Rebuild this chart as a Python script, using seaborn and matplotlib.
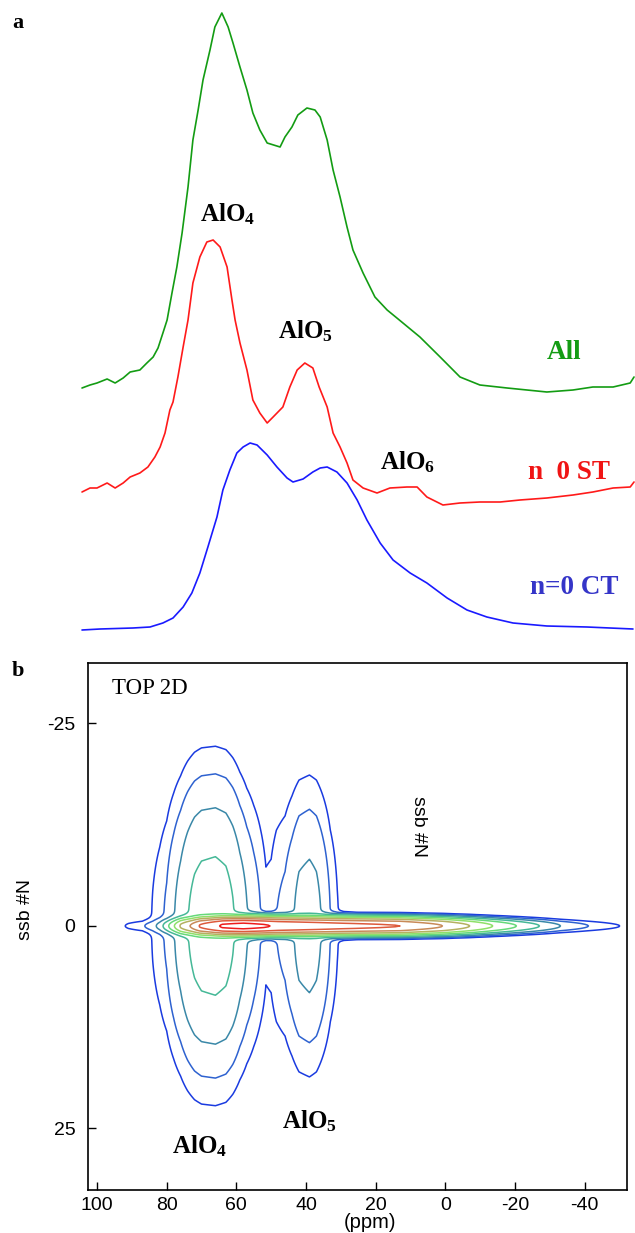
import numpy as np
import matplotlib
matplotlib.use("Agg")
import matplotlib.pyplot as plt
import seaborn as sns

# ---------------- data: panel a (1D spectra, ppm vs. height) ----------------
all_ppm = [104.3, 102.0, 100.0, 97.1, 94.8, 92.5, 90.5, 87.7, 85.7, 83.9, 82.5, 81.1, 79.9,
           78.5, 77.1, 75.6, 73.9, 72.5, 71.0, 69.6, 67.6, 66.2, 64.2, 62.4, 61.0, 59.0,
           57.0, 55.3, 53.3, 51.2, 47.5, 46.1, 44.1, 42.4, 39.8, 37.5, 36.0, 34.0, 32.3,
           30.3, 28.3, 26.6, 23.7, 20.3, 16.8, 14.0, 7.4, 1.6, -4.1, -9.8, -17.6, -23.3,
           -29.0, -36.5, -42.2, -48.0, -52.9, -54.0]
all_h = [0, 3, 5, 9, 5, 10, 16, 18, 25, 31, 40, 55, 68,
         95, 121, 155, 201, 248, 278, 308, 338, 361, 375, 361, 345, 321,
         298, 275, 258, 245, 241, 251, 261, 273, 280, 278, 271, 248, 218,
         191, 161, 138, 115, 91, 78, 70, 51, 31, 11, 3, 0, -2,
         -4, -2, 1, 1, 5, 11]

st_ppm = [104.3, 102.0, 100.0, 97.1, 94.8, 92.5, 90.5, 87.7, 85.4, 83.4, 81.9, 80.5, 79.1,
          78.2, 76.8, 75.3, 73.9, 72.5, 70.5, 68.5, 66.7, 64.7, 62.7, 61.3, 60.4, 59.0,
          57.0, 55.3, 53.3, 51.2, 49.5, 46.7, 44.7, 42.6, 40.4, 38.1, 36.3, 34.0, 32.3,
          30.3, 28.3, 26.6, 23.7, 19.7, 16.0, 11.1, 8.2, 5.4, 0.8, -4.1, -9.8, -15.6,
          -21.3, -29.0, -36.5, -42.2, -48.0, -52.9, -54.0]
st_h = [-2, 2, 2, 7, 2, 7, 13, 17, 23, 33, 43, 57, 80,
        88, 113, 143, 170, 207, 233, 248, 250, 243, 223, 190, 170, 147,
        120, 90, 77, 67, 73, 83, 103, 120, 127, 122, 103, 83, 57,
        43, 27, 10, 2, -3, 2, 3, 3, -7, -15, -13, -12, -12,
        -10, -8, -5, -2, 2, 3, 8]

ct_ppm = [104.3, 99.1, 89.7, 84.8, 81.1, 78.2, 75.3, 72.8, 70.5, 68.2, 65.6, 63.9, 61.9,
          59.9, 58.1, 56.1, 54.1, 51.2, 48.4, 45.5, 43.8, 40.9, 38.1, 36.0, 34.0, 31.2,
          28.3, 25.4, 22.6, 18.8, 15.1, 10.2, 5.4, -0.4, -6.1, -11.8, -19.3, -29.0,
          -40.5, -53.7]
ct_h = [0, 1, 2, 3, 7, 12, 23, 37, 57, 83, 113, 140, 160,
        177, 183, 187, 185, 175, 163, 152, 148, 151, 158, 162, 163, 158,
        147, 130, 110, 87, 70, 57, 47, 32, 20, 13, 7, 4,
        3, 1]

trace_names = ["All", "n  0 ST", "n=0 CT"]
trace_offsets = [242, 140, 0]

# ---------------- data: panel b (TOP 2D map) ----------------
# centreband ridge amplitude (log2 units) along ppm
ridge_ppm = [106, 95, 91, 84, 82, 80.5, 79, 77.5, 76, 73, 70.5, 64, 58, 52, 48, 40, 30, 13,
             0.8, -7, -13.6, -20.4, -27, -33, -41, -50, -58]
ridge_log2 = [-3, -1, 0, 0.9, 1.9, 3, 4, 5, 6, 7, 8, 9.1, 9.35, 9.1, 8.85, 8.6, 8.35, 8,
              7, 6, 5, 4, 3, 2, 1, 0, -1.5]
# spinning-sideband manifold amplitude along ppm
ssb_ppm = [106, 95, 87, 85, 84, 82, 80, 78, 76, 74, 72, 70, 66, 63, 61, 59, 57, 55, 53, 51.5,
           50, 48.5, 46, 44, 42, 39, 37, 35, 33, 31, 29, 25, -58]
ssb_amp = [0.0, 0.05, 0.3, 0.8, 1.1, 1.6, 2.3, 3.8, 5.5, 7.8, 9.8, 11, 11.5, 10.5, 8.5, 6, 4.2,
           3, 2, 1.3, 1.4, 2, 2.5, 3.6, 5, 5.6, 5, 3.5, 2, 1.1, 0.5, 0.1, 0.0]
contour_levels = [1, 2, 4, 8, 16, 32, 64, 128, 256, 512]
contour_colors = ["#1a3be0", "#2e62d0", "#3a88a8", "#45b897", "#66d97a",
                  "#8fe06a", "#b5b060", "#c88a58", "#dd5a3c", "#ee1c1c"]
x_ticks = [100, 80, 60, 40, 20, 0, -20, -40]
y_ticks = [-25, 0, 25]

# ---------------- style ----------------
sns.set_theme(style="white")
plt.rcParams.update({
    "font.family": ["Liberation Sans", "DejaVu Sans"],
    "axes.unicode_minus": False,
    "text.color": "black",
    "axes.labelcolor": "black",
    "xtick.color": "black",
    "ytick.color": "black",
    "axes.edgecolor": "black",
    "mathtext.fontset": "custom",
    "mathtext.rm": "Liberation Serif:bold",
    "mathtext.it": "Liberation Serif:bold",
    "mathtext.bf": "Liberation Serif:bold",
})

W, H = 635, 1233
fig = plt.figure(figsize=(W / 100, H / 100), dpi=100)


def fx(x):
    return x / W


def fy(y):
    return 1 - y / H


SERIF = ["Liberation Serif", "DejaVu Serif"]

# ---------------- panel a ----------------
axa = fig.add_axes([fx(76.08), fy(640), (641.0 - 76.08) / W, 640 / H])
traces = [(all_ppm, all_h, "#139c13"), (st_ppm, st_h, "#ff1a1a"), (ct_ppm, ct_h, "#1a1aff")]
for (pp, hh, col), off in zip(traces, trace_offsets):
    sns.lineplot(x=np.asarray(pp), y=np.asarray(hh) + off, ax=axa, color=col,
                 linewidth=1.2, estimator=None, sort=False)
axa.set_xlim(106, -56)
axa.set_ylim(-10, 630)
axa.axis("off")

fig.text(fx(12), fy(28), "a", family=SERIF, weight="bold", fontsize=16, va="baseline")
fig.text(fx(200), fy(221), r"AlO$_4$", family=SERIF, weight="bold", fontsize=18, va="baseline")
fig.text(fx(278), fy(338), r"AlO$_5$", family=SERIF, weight="bold", fontsize=18, va="baseline")
fig.text(fx(380), fy(469), r"AlO$_6$", family=SERIF, weight="bold", fontsize=18, va="baseline")
fig.text(fx(547), fy(359), trace_names[0], family=SERIF, weight="bold", fontsize=19.5,
         color="#139c13", va="baseline")
fig.text(fx(528), fy(479), trace_names[1], family=SERIF, weight="bold", fontsize=19.5,
         color="#f01414", va="baseline")
fig.text(fx(530), fy(594), trace_names[2], family=SERIF, weight="bold", fontsize=19.5,
         color="#3535c8", va="baseline")

# ---------------- panel b ----------------
axb = fig.add_axes([fx(88), fy(1190), (627 - 88) / W, (1190 - 663) / H])
ppm_axis = np.linspace(106, -58, 657)
n_axis = np.linspace(-34, 34, 681)
P, N = np.meshgrid(ppm_axis, n_axis)
ridge = 2.0 ** np.interp(ppm_axis, ridge_ppm[::-1], ridge_log2[::-1])
ssb = np.interp(ppm_axis, ssb_ppm[::-1], ssb_amp[::-1])
Z = ridge[None, :] * np.exp(-(N / 0.7) ** 2) + ssb[None, :] * np.exp(-(N / 14.2) ** 2)
axb.contour(P, N, Z, levels=contour_levels, colors=contour_colors, linewidths=1.1)

axb.set_xlim(102.6, -52.2)
axb.set_ylim(32.6, -32.47)
axb.set_xticks(x_ticks, labels=[str(t) for t in x_ticks])
axb.set_yticks(y_ticks, labels=[str(t) for t in y_ticks])
axb.tick_params(axis="both", direction="in", length=6, width=1.0, color="black",
                labelcolor="black", labelsize=14, bottom=True, left=True, top=False, right=False)
axb.tick_params(axis="x", pad=5)
axb.tick_params(axis="y", pad=9)
for s in axb.spines.values():
    s.set_visible(True)
    s.set_color("black")
    s.set_linewidth(1.2)
axb.grid(False)

fig.text(fx(12), fy(676), "b", family=SERIF, weight="bold", fontsize=16, va="baseline")
fig.text(fx(112), fy(694), "TOP 2D", family=SERIF, fontsize=16.5, va="baseline")
fig.text(fx(419), fy(826), "ssb #N", fontsize=14, rotation=270, ha="center", va="center")
fig.text(fx(25), fy(910), "ssb #N", fontsize=14, rotation=90, ha="center", va="center")
fig.text(fx(370), fy(1223), "(ppm)", fontsize=14.5, ha="center", va="center")
fig.text(fx(172), fy(1153), r"AlO$_4$", family=SERIF, weight="bold", fontsize=18, va="baseline")
fig.text(fx(282), fy(1128), r"AlO$_5$", family=SERIF, weight="bold", fontsize=18, va="baseline")

fig.savefig("out.png", dpi=100)
